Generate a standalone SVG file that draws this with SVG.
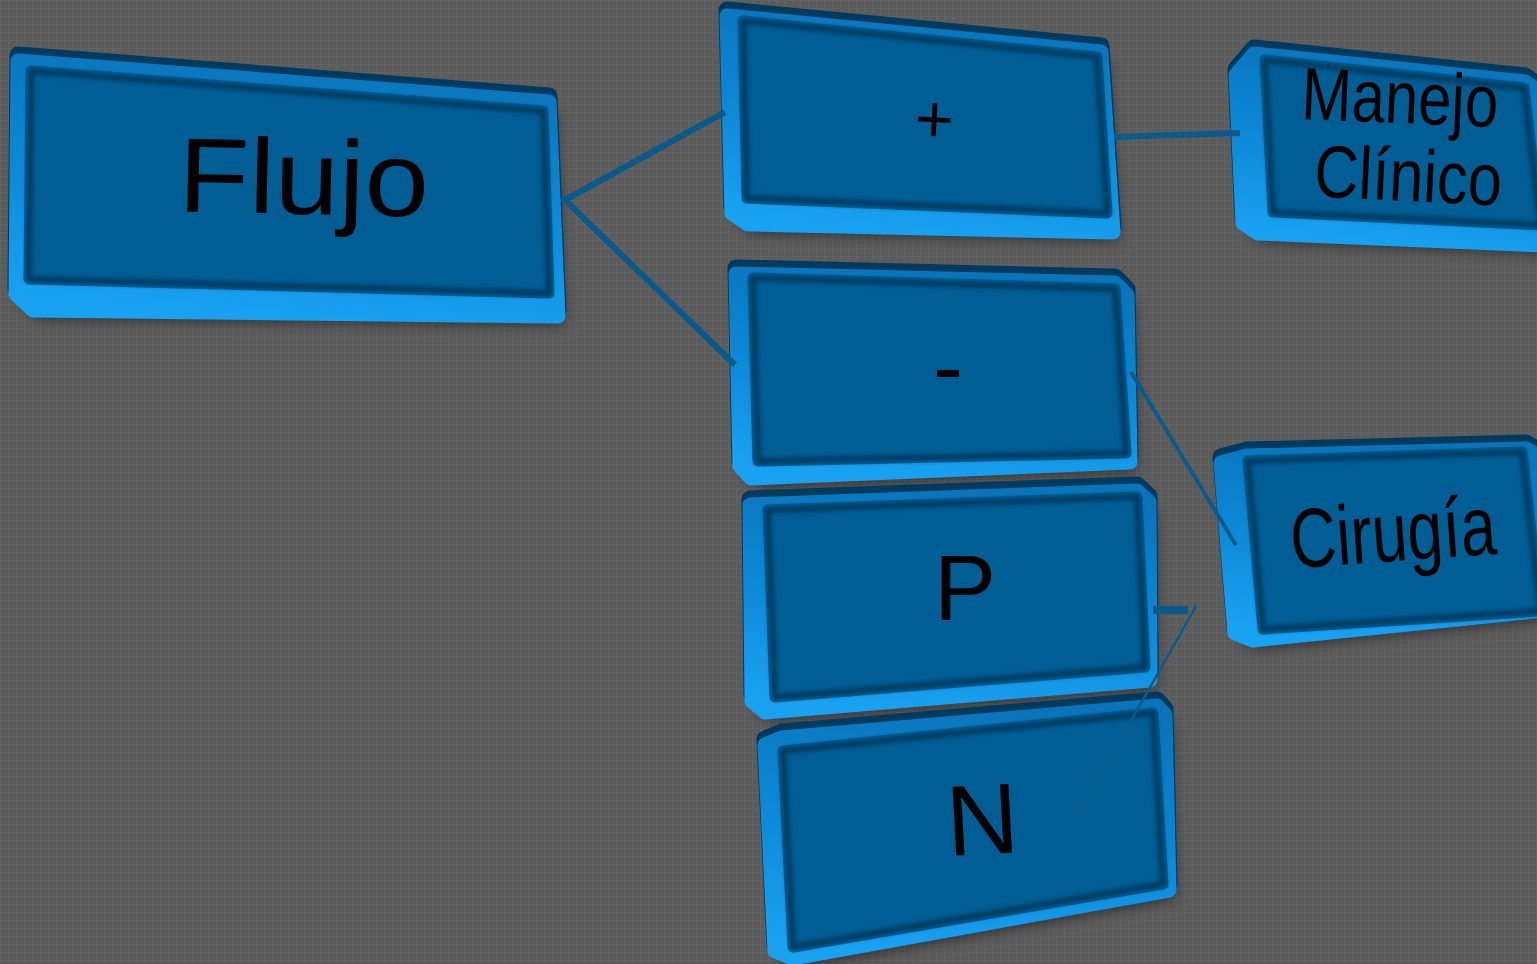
<svg xmlns="http://www.w3.org/2000/svg" xmlns:xlink="http://www.w3.org/1999/xlink" width="1537" height="964" viewBox="0 0 1537 964">
  <defs>
    <!-- fine woven texture of the backdrop -->
    <pattern id="weave" width="8" height="8" patternUnits="userSpaceOnUse">
      <rect width="8" height="8" fill="#5b5b5b"/>
      <rect x="0" y="0" width="8" height="1" fill="#636363"/>
      <rect x="0" y="0" width="1" height="8" fill="#636363"/>
      <rect x="2" y="2" width="1" height="1" fill="#686868"/>
      <rect x="5" y="5" width="1" height="1" fill="#686868"/>
      <rect x="4" y="2" width="1" height="1" fill="#535353"/>
      <rect x="2" y="5" width="1" height="1" fill="#535353"/>
      <rect x="6" y="3" width="1" height="1" fill="#616161"/>
    </pattern>

    <!-- bevel rim: bright blue, lightest towards the lower-left -->
    <linearGradient id="rim" x1="0.6" y1="0" x2="0.4" y2="1">
      <stop offset="0" stop-color="#0a74bb"/>
      <stop offset="0.5" stop-color="#0c88d6"/>
      <stop offset="1" stop-color="#19a2f2"/>
    </linearGradient>

    <filter id="blur" x="-20%" y="-20%" width="140%" height="140%">
      <feGaussianBlur stdDeviation="7"/>
    </filter>
    <filter id="soft" x="-10%" y="-10%" width="120%" height="120%">
      <feGaussianBlur stdDeviation="2"/>
    </filter>

    <style>
      .shadow { fill: #000; opacity: 0.5; filter: url(#blur); }
      .back   { fill: #003a5e; stroke: #003a5e; stroke-width: 17; stroke-linejoin: round; }
      .body   { fill: url(#rim); stroke: url(#rim); stroke-width: 15; stroke-linejoin: round; }
      .face   { fill: #005e95; stroke: #005e95; stroke-width: 11; stroke-linejoin: round; }
      .edge   { fill: none; stroke: #003a60; stroke-width: 6; stroke-linejoin: round; filter: url(#soft); }
      .lbl    { font-family: "Liberation Sans", Arial, sans-serif; fill: #000; text-anchor: middle; }
      .link   { fill: none; stroke: #0b5a8c; stroke-linecap: butt; }
    </style>

    <!-- outlines of each block: outer body and top face -->
    <polygon id="flujo-body" points="18,58 549,99 558,313 33,307 16,291"/>
    <polygon id="flujo-face" points="31,71 543,111 549,293 29,279"/>

    <polygon id="mas-body" points="727,13 1101,49 1113,229 748,221 732,210"/>
    <polygon id="mas-face" points="743,21 1097,57 1107,213 747,198"/>

    <polygon id="manejo-body" points="1236,72 1254,51 1525,79 1545,93 1545,242 1258,230 1243,220"/>
    <polygon id="manejo-face" points="1265,60 1524,88 1540,225 1273,212"/>

    <polygon id="menos-body" points="736,271 1115,280 1127,292 1130,459 751,475 740,463"/>
    <polygon id="menos-face" points="753,278 1115,289 1126,453 758,461"/>

    <polygon id="p-body" points="750,502 1137,488 1149,499 1150,677 765,709 752,698"/>
    <polygon id="p-face" points="768,510 1137,497 1145,667 775,697"/>

    <polygon id="n-body" points="765,742 782,735 1157,703 1165,712 1169,887 793,955 775,948"/>
    <polygon id="n-face" points="783,751 1153,713 1163,884 793,947"/>

    <polygon id="cirugia-body" points="1221,460 1247,453 1526,446 1545,457 1545,607 1253,637 1235,630"/>
    <polygon id="cirugia-face" points="1248,461 1522,452 1540,611 1263,629"/>
  </defs>

  <rect width="1537" height="964" fill="url(#weave)"/>

  <!-- blocks -->
  <g id="node-flujo">
    <use xlink:href="#flujo-body" class="shadow" transform="translate(6,12)"/>
    <use xlink:href="#flujo-body" class="back" transform="translate(0,-3)"/>
    <use xlink:href="#flujo-body" class="body" transform="translate(0,3)"/>
    <use xlink:href="#flujo-face" class="face"/>
    <use xlink:href="#flujo-face" class="edge"/>
    <text class="lbl" font-size="106" transform="translate(303 214) rotate(1.2) scale(1.09 1)">Flujo</text>
  </g>

  <g id="node-mas">
    <use xlink:href="#mas-body" class="shadow" transform="translate(6,12)"/>
    <use xlink:href="#mas-body" class="back" transform="translate(0,-3)"/>
    <use xlink:href="#mas-body" class="body" transform="translate(0,3)"/>
    <use xlink:href="#mas-face" class="face"/>
    <use xlink:href="#mas-face" class="edge"/>
    <text class="lbl" font-size="67" transform="translate(933 142) rotate(3)">+</text>
  </g>

  <g id="node-manejo">
    <use xlink:href="#manejo-body" class="shadow" transform="translate(6,12)"/>
    <use xlink:href="#manejo-body" class="back" transform="translate(0,-3)"/>
    <use xlink:href="#manejo-body" class="body" transform="translate(0,3)"/>
    <use xlink:href="#manejo-face" class="face"/>
    <use xlink:href="#manejo-face" class="edge"/>
    <text class="lbl" font-size="74" transform="translate(1399 123) rotate(2.4) scale(0.81 1)">Manejo</text>
    <text class="lbl" font-size="74" transform="translate(1407 201) rotate(2.8) scale(0.83 1)">Clínico</text>
  </g>

  <g id="node-menos">
    <use xlink:href="#menos-body" class="shadow" transform="translate(6,12)"/>
    <use xlink:href="#menos-body" class="back" transform="translate(0,-3)"/>
    <use xlink:href="#menos-body" class="body" transform="translate(0,3)"/>
    <use xlink:href="#menos-face" class="face"/>
    <use xlink:href="#menos-face" class="edge"/>
    <text class="lbl" font-size="90" transform="translate(948 398)">-</text>
  </g>

  <g id="node-p">
    <use xlink:href="#p-body" class="shadow" transform="translate(6,12)"/>
    <use xlink:href="#p-body" class="back" transform="translate(0,-3)"/>
    <use xlink:href="#p-body" class="body" transform="translate(0,3)"/>
    <use xlink:href="#p-face" class="face"/>
    <use xlink:href="#p-face" class="edge"/>
    <text class="lbl" font-size="93" transform="translate(965 620)">P</text>
  </g>

  <g id="node-n">
    <use xlink:href="#n-body" class="shadow" transform="translate(6,12)"/>
    <use xlink:href="#n-body" class="back" transform="translate(0,-3)"/>
    <use xlink:href="#n-body" class="body" transform="translate(0,3)"/>
    <use xlink:href="#n-face" class="face"/>
    <use xlink:href="#n-face" class="edge"/>
    <text class="lbl" font-size="100" transform="translate(984 854) rotate(-3)">N</text>
  </g>

  <g id="node-cirugia">
    <use xlink:href="#cirugia-body" class="shadow" transform="translate(6,12)"/>
    <use xlink:href="#cirugia-body" class="back" transform="translate(0,-3)"/>
    <use xlink:href="#cirugia-body" class="body" transform="translate(0,3)"/>
    <use xlink:href="#cirugia-face" class="face"/>
    <use xlink:href="#cirugia-face" class="edge"/>
    <text class="lbl" font-size="84" transform="translate(1395 561) rotate(-4) scale(0.76 1)">Cirugía</text>
  </g>

  <!-- connectors -->
  <g id="connectors">
    <polyline class="link" stroke-width="6" points="725,112 565,200 735,365"/>
    <line class="link" stroke-width="6" x1="1114" y1="137" x2="1240" y2="133"/>
    <line class="link" stroke-width="4" x1="1131" y1="372" x2="1236" y2="545"/>
    <line class="link" stroke="#0a64aa" stroke-width="8" x1="1153" y1="610" x2="1188" y2="610"/>
    <line class="link" stroke="#1272cc" stroke-width="2.5" x1="1196" y1="606" x2="1075" y2="820"/>
  </g>
</svg>
